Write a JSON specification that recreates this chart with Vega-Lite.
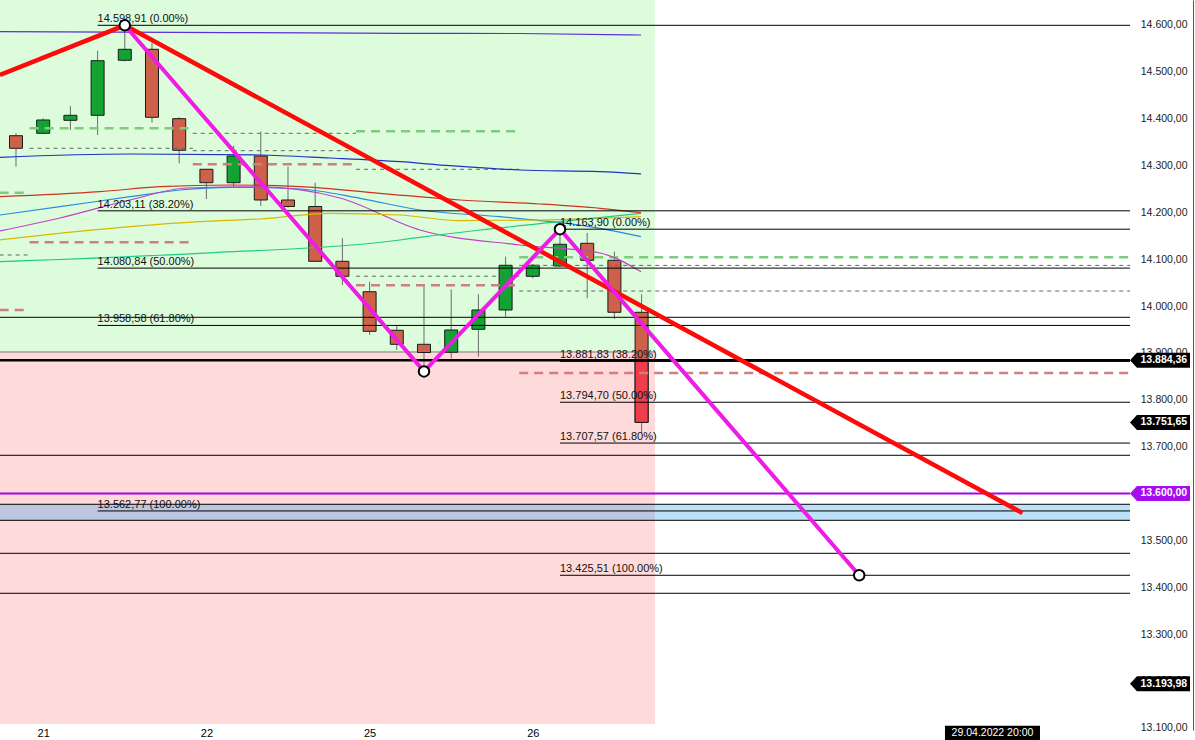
{
"$schema":"https://vega.github.io/schema/vega-lite/v6.json",
"width":1130,"height":730,"autosize":{"type":"none"},"padding":{"left":0,"top":0,"right":65,"bottom":10},"background":"white",
"config":{"view":{"stroke":null},"font":"Liberation Sans"},
"datasets":{
"zones":[{"x0":-0.6,"x1":23.49,"lo":13901.9,"hi":14660,"zone":"bull"},{"x0":-0.6,"x1":23.49,"lo":13108.2,"hi":13901.9,"zone":"bear"}],
"band":[{"lo":13542.8,"hi":13577.0}],
"candles":[
{"k":0,"open":14363.4,"high":14368.5,"low":14297.2,"close":14336.5},
{"k":1,"open":14368.5,"high":14400.5,"low":14367.0,"close":14396.9},
{"k":2,"open":14396.2,"high":14426.8,"low":14375.5,"close":14406.9},
{"k":3,"open":14406.9,"high":14544.7,"low":14364.9,"close":14523.4},
{"k":4,"open":14524.3,"high":14598.91,"low":14522.0,"close":14547.7},
{"k":5,"open":14547.7,"high":14561.0,"low":14391.1,"close":14402.6},
{"k":6,"open":14399.7,"high":14402.6,"low":14304.5,"close":14332.2},
{"k":7,"open":14291.7,"high":14292.5,"low":14228.3,"close":14263.1},
{"k":8,"open":14263.1,"high":14342.0,"low":14254.6,"close":14320.1},
{"k":9,"open":14320.1,"high":14371.9,"low":14213.4,"close":14226.2},
{"k":10,"open":14226.2,"high":14297.2,"low":14210.0,"close":14212.3},
{"k":11,"open":14212.3,"high":14263.1,"low":14094.0,"close":14095.4},
{"k":12,"open":14095.4,"high":14144.5,"low":14044.8,"close":14063.4},
{"k":13,"open":14030.5,"high":14051.9,"low":13938.2,"close":13946.0},
{"k":14,"open":13948.2,"high":13957.4,"low":13906.2,"close":13918.3},
{"k":15,"open":13918.3,"high":14042.7,"low":13860.5,"close":13900.8},
{"k":16,"open":13901.3,"high":14035.7,"low":13888.4,"close":13948.8},
{"k":17,"open":13950.3,"high":14025.0,"low":13891.9,"close":13991.5},
{"k":18,"open":13991.5,"high":14105.2,"low":13977.2,"close":14086.9},
{"k":19,"open":14063.4,"high":14089.6,"low":14059.1,"close":14086.9},
{"k":20,"open":14085.4,"high":14163.9,"low":14083.3,"close":14131.7},
{"k":21,"open":14133.8,"high":14155.8,"low":14016.5,"close":14097.5},
{"k":22,"open":14097.5,"high":14115.9,"low":13972.3,"close":13986.6},
{"k":23,"open":13986.6,"high":14025.0,"low":13728.4,"close":13751.65}],
"live":[{"k":23,"from":13884.36,"to":13751.65}],
"hlines":[{"v":13975.9},{"v":13681.5},{"v":13577.0},{"v":13542.8},{"v":13472.4},{"v":13387.1}],
"pivots":[
{"x0":-0.6,"x1":0.5,"v":14241.8,"type":"high"},{"x0":-0.6,"x1":0.5,"v":14108.9,"type":"mid"},{"x0":-0.6,"x1":0.5,"v":13991.5,"type":"low"},
{"x0":0.5,"x1":6.5,"v":14379.2,"type":"high"},{"x0":0.5,"x1":6.5,"v":14336.5,"type":"mid"},{"x0":0.5,"x1":6.5,"v":14136.2,"type":"low"},
{"x0":6.5,"x1":12.5,"v":14368.5,"type":"mid"},{"x0":6.5,"x1":12.5,"v":14331.4,"type":"mid"},{"x0":6.5,"x1":12.5,"v":14302.6,"type":"low"},
{"x0":12.5,"x1":18.5,"v":14373.0,"type":"high"},{"x0":12.5,"x1":18.5,"v":14291.7,"type":"mid"},{"x0":12.5,"x1":18.5,"v":14063.6,"type":"mid"},{"x0":12.5,"x1":18.5,"v":14044.2,"type":"low"},
{"x0":18.5,"x1":40.96,"v":14104.0,"type":"high"},{"x0":18.5,"x1":40.96,"v":14086.7,"type":"mid"},{"x0":18.5,"x1":40.96,"v":14032.0,"type":"mid"},{"x0":18.5,"x1":40.96,"v":13857.0,"type":"low"}],
"ma":[
{"m":"m1","k":-0.59,"v":14585.3},{"m":"m1","k":8,"v":14583.5},{"m":"m1","k":14.12,"v":14581.9},{"m":"m1","k":18.53,"v":14581.4},{"m":"m1","k":22.98,"v":14578.2},
{"m":"m2","k":-0.59,"v":14317.3},{"m":"m2","k":4.19,"v":14324.3},{"m":"m2","k":8.97,"v":14322.2},{"m":"m2","k":11.54,"v":14315.8},{"m":"m2","k":14.12,"v":14307.9},{"m":"m2","k":15.96,"v":14299.4},{"m":"m2","k":18.53,"v":14290.2},{"m":"m2","k":21.47,"v":14286.6},{"m":"m2","k":22.98,"v":14281.7},
{"m":"m3","k":-0.59,"v":14233.2},{"m":"m3","k":3.09,"v":14243.9},{"m":"m3","k":5.29,"v":14254.6},{"m":"m3","k":7.87,"v":14258.2},{"m":"m3","k":10.44,"v":14254.6},{"m":"m3","k":13.38,"v":14240.5},{"m":"m3","k":16.32,"v":14226.2},{"m":"m3","k":19.26,"v":14217.7},{"m":"m3","k":21.47,"v":14208.5},{"m":"m3","k":22.98,"v":14199.1},
{"m":"m4","k":-0.59,"v":14194.2},{"m":"m4","k":1.62,"v":14211.9},{"m":"m4","k":4.19,"v":14233.2},{"m":"m4","k":6.03,"v":14247.5},{"m":"m4","k":7.87,"v":14253.3},{"m":"m4","k":10.44,"v":14249.7},{"m":"m4","k":12.65,"v":14229.8},{"m":"m4","k":14.85,"v":14204.9},{"m":"m4","k":17.79,"v":14190.6},{"m":"m4","k":20.0,"v":14177.8},{"m":"m4","k":21.47,"v":14165.8},{"m":"m4","k":22.98,"v":14147.9},
{"m":"m5","k":-0.59,"v":14160.1},{"m":"m5","k":1.62,"v":14187.8},{"m":"m5","k":4.19,"v":14226.2},{"m":"m5","k":6.29,"v":14251.8},{"m":"m5","k":8.97,"v":14254.0},{"m":"m5","k":11.91,"v":14230.5},{"m":"m5","k":14.85,"v":14162.2},{"m":"m5","k":18.53,"v":14130.2},{"m":"m5","k":21.47,"v":14113.1},{"m":"m5","k":22.98,"v":14073.2},
{"m":"m6","k":-0.59,"v":14140.9},{"m":"m6","k":4.19,"v":14169.2},{"m":"m6","k":6.76,"v":14179.9},{"m":"m6","k":8.97,"v":14185.7},{"m":"m6","k":11.54,"v":14197.8},{"m":"m6","k":14.12,"v":14194.2},{"m":"m6","k":16.32,"v":14182.0},{"m":"m6","k":19.26,"v":14183.5},{"m":"m6","k":22.98,"v":14190.6},
{"m":"m7","k":-0.59,"v":14094.6},{"m":"m7","k":6.76,"v":14112.5},{"m":"m7","k":14.12,"v":14140.9},{"m":"m7","k":14.85,"v":14146.6},{"m":"m7","k":17.06,"v":14162.2},{"m":"m7","k":20.0,"v":14179.9},{"m":"m7","k":22.98,"v":14197.8}],
"fibs":[
{"start":3,"v":14598.91,"label":"14.598,91 (0.00%)"},{"start":3,"v":14203.11,"label":"14.203,11 (38.20%)"},{"start":3,"v":14080.84,"label":"14.080,84 (50.00%)"},{"start":3,"v":13958.58,"label":"13.958,58 (61.80%)"},{"start":3,"v":13562.77,"label":"13.562,77 (100.00%)"},
{"start":20,"v":14163.90,"label":"14.163,90 (0.00%)"},{"start":20,"v":13881.83,"label":"13.881,83 (38.20%)"},{"start":20,"v":13794.70,"label":"13.794,70 (50.00%)"},{"start":20,"v":13707.57,"label":"13.707,57 (61.80%)"},{"start":20,"v":13425.51,"label":"13.425,51 (100.00%)"}],
"price":[{"v":13884.36}],
"alert":[{"v":13600.0}],
"trend":[{"k":-0.59,"v":14492.9},{"k":4,"v":14598.91},{"k":37,"v":13558.4}],
"zigzag":[{"k":4,"v":14598.91},{"k":15,"v":13860.52},{"k":20,"v":14163.90},{"k":31,"v":13425.51}],
"tags":[{"price":13884.36,"label":"13.884,36","kind":"price"},{"price":13751.65,"label":"13.751,65","kind":"price"},{"price":13600.0,"label":"13.600,00","kind":"alert"},{"price":13193.98,"label":"13.193,98","kind":"price"}],
"cursor":[{"label":"29.04.2022 20:00"}]
},
"layer":[
{"data":{"name":"zones"},"mark":{"type":"rect"},
 "encoding":{
  "x":{"field":"x0","type":"quantitative","scale":{"domain":[-0.588,40.956],"nice":false,"zero":false,"padding":0},
       "axis":{"values":[1,7,13,19],"labelExpr":"datum.value==1?'21':datum.value==7?'22':datum.value==13?'25':'26'","title":null,"grid":false,"ticks":false,"domain":false,"labelPadding":-3,"labelFontSize":11,"labelColor":"#000","labelFont":"Liberation Sans"}},
  "x2":{"field":"x1"},
  "y":{"field":"lo","type":"quantitative","scale":{"domain":[13095.4,14652.9],"nice":false,"zero":false},
       "axis":{"orient":"right","values":[13100,13200,13300,13400,13500,13600,13700,13800,13900,14000,14100,14200,14300,14400,14500,14600],"labelExpr":"replace(replace(replace(format(datum.value, ',.2f'), ',', '#'), '.', ','), '#', '.')","title":null,"grid":false,"ticks":false,"domain":true,"domainColor":"#555","offset":63,"labelAlign":"right","labelPadding":-6,"labelFontSize":10.5,"labelColor":"#222","labelFont":"Liberation Sans"}},
  "y2":{"field":"hi"},
  "color":{"field":"zone","type":"nominal","scale":{"domain":["bull","bear"],"range":["#dcfcdc","#ffdada"]},"legend":null}}},
{"data":{"name":"zones"},"transform":[{"filter":"datum.zone=='bear'"}],"mark":{"type":"rule","color":"#777","strokeWidth":1},
 "encoding":{"x":{"field":"x0","type":"quantitative","scale":{"domain":[-0.588,40.956],"nice":false,"zero":false,"padding":0},"title":null},"x2":{"field":"x1"},
  "y":{"field":"hi","type":"quantitative","scale":{"domain":[13095.4,14652.9],"nice":false,"zero":false},"title":null}}},
{"data":{"name":"band"},"mark":{"type":"rect","color":"#189bee","opacity":0.29},
 "encoding":{"y":{"field":"lo","type":"quantitative","scale":{"domain":[13095.4,14652.9],"nice":false,"zero":false},"title":null},"y2":{"field":"hi"}}},
{"data":{"name":"candles"},"mark":{"type":"rule","color":"#6b6b6b","strokeWidth":1},
 "encoding":{"x":{"field":"k","type":"quantitative","scale":{"domain":[-0.588,40.956],"nice":false,"zero":false,"padding":0},"title":null},
  "y":{"field":"low","type":"quantitative","scale":{"domain":[13095.4,14652.9],"nice":false,"zero":false},"title":null},"y2":{"field":"high"}}},
{"data":{"name":"candles"},"mark":{"type":"bar","width":13,"stroke":"#1b1b1b","strokeWidth":1},
 "encoding":{"x":{"field":"k","type":"quantitative","scale":{"domain":[-0.588,40.956],"nice":false,"zero":false,"padding":0},"title":null},
  "y":{"field":"open","type":"quantitative","scale":{"domain":[13095.4,14652.9],"nice":false,"zero":false},"title":null},"y2":{"field":"close"},
  "color":{"condition":{"test":"datum.close >= datum.open","value":"#12a332"},"value":"#cd6149"}}},
{"data":{"name":"live"},"mark":{"type":"bar","width":13,"stroke":"#1b1b1b","strokeWidth":1,"color":"#ef3d4c"},
 "encoding":{"x":{"field":"k","type":"quantitative","scale":{"domain":[-0.588,40.956],"nice":false,"zero":false,"padding":0},"title":null},
  "y":{"field":"from","type":"quantitative","scale":{"domain":[13095.4,14652.9],"nice":false,"zero":false},"title":null},"y2":{"field":"to"}}},
{"data":{"name":"hlines"},"mark":{"type":"rule","color":"#000","strokeWidth":1},
 "encoding":{"y":{"field":"v","type":"quantitative","scale":{"domain":[13095.4,14652.9],"nice":false,"zero":false},"title":null}}},
{"data":{"name":"pivots"},"mark":{"type":"rule"},
 "encoding":{"x":{"field":"x0","type":"quantitative","scale":{"domain":[-0.588,40.956],"nice":false,"zero":false,"padding":0},"title":null},"x2":{"field":"x1"},
  "y":{"field":"v","type":"quantitative","scale":{"domain":[13095.4,14652.9],"nice":false,"zero":false},"title":null},
  "color":{"field":"type","type":"nominal","scale":{"domain":["high","mid","low"],"range":["#7fcc7f","#666666","#cf7f7f"]},"legend":null},
  "strokeDash":{"field":"type","type":"nominal","scale":{"domain":["high","mid","low"],"range":[[9,6],[4,4],[9,6]]},"legend":null},
  "strokeWidth":{"field":"type","type":"nominal","scale":{"type":"ordinal","domain":["high","mid","low"],"range":[2.5,1,2.5]},"legend":null}}},
{"data":{"name":"ma"},"mark":{"type":"line","strokeWidth":1.2,"interpolate":"monotone"},
 "encoding":{"x":{"field":"k","type":"quantitative","scale":{"domain":[-0.588,40.956],"nice":false,"zero":false,"padding":0},"title":null},
  "y":{"field":"v","type":"quantitative","scale":{"domain":[13095.4,14652.9],"nice":false,"zero":false},"title":null},
  "color":{"field":"m","type":"nominal","scale":{"domain":["m1","m2","m3","m4","m5","m6","m7"],"range":["#5a2fd6","#1f33c4","#cc3320","#2a8be0","#c23fc6","#d6b900","#20cc85"]},"legend":null},
  "order":{"field":"k","type":"quantitative"}}},
{"data":{"name":"fibs"},"mark":{"type":"rule","color":"#000","strokeWidth":1},
 "encoding":{"x":{"field":"start","type":"quantitative","scale":{"domain":[-0.588,40.956],"nice":false,"zero":false,"padding":0},"title":null},"x2":{"datum":40.956},
  "y":{"field":"v","type":"quantitative","scale":{"domain":[13095.4,14652.9],"nice":false,"zero":false},"title":null}}},
{"data":{"name":"fibs"},"mark":{"type":"text","align":"left","baseline":"bottom","dy":-1,"fontSize":11,"color":"#111"},
 "encoding":{"x":{"field":"start","type":"quantitative","scale":{"domain":[-0.588,40.956],"nice":false,"zero":false,"padding":0},"title":null},
  "y":{"field":"v","type":"quantitative","scale":{"domain":[13095.4,14652.9],"nice":false,"zero":false},"title":null},"text":{"field":"label"}}},
{"data":{"name":"price"},"mark":{"type":"rule","color":"#000","strokeWidth":2.5},
 "encoding":{"y":{"field":"v","type":"quantitative","scale":{"domain":[13095.4,14652.9],"nice":false,"zero":false},"title":null}}},
{"data":{"name":"alert"},"mark":{"type":"rule","color":"#aa00ee","strokeWidth":2},
 "encoding":{"y":{"field":"v","type":"quantitative","scale":{"domain":[13095.4,14652.9],"nice":false,"zero":false},"title":null}}},
{"data":{"name":"trend"},"mark":{"type":"line","color":"#ff0a0a","strokeWidth":4.5},
 "encoding":{"x":{"field":"k","type":"quantitative","scale":{"domain":[-0.588,40.956],"nice":false,"zero":false,"padding":0},"title":null},
  "y":{"field":"v","type":"quantitative","scale":{"domain":[13095.4,14652.9],"nice":false,"zero":false},"title":null},"order":{"field":"k","type":"quantitative"}}},
{"data":{"name":"zigzag"},"mark":{"type":"line","color":"#ee1ce4","strokeWidth":4},
 "encoding":{"x":{"field":"k","type":"quantitative","scale":{"domain":[-0.588,40.956],"nice":false,"zero":false,"padding":0},"title":null},
  "y":{"field":"v","type":"quantitative","scale":{"domain":[13095.4,14652.9],"nice":false,"zero":false},"title":null},"order":{"field":"k","type":"quantitative"}}},
{"data":{"name":"zigzag"},"mark":{"type":"point","shape":"circle","filled":true,"fill":"white","stroke":"black","strokeWidth":2,"size":110,"opacity":1},
 "encoding":{"x":{"field":"k","type":"quantitative","scale":{"domain":[-0.588,40.956],"nice":false,"zero":false,"padding":0},"title":null},
  "y":{"field":"v","type":"quantitative","scale":{"domain":[13095.4,14652.9],"nice":false,"zero":false},"title":null}}},
{"data":{"name":"tags"},"mark":{"type":"point","shape":"M-1,0L-0.77,-0.25L1,-0.25L1,0.25L-0.77,0.25Z","filled":true,"size":3600,"opacity":1,"strokeWidth":0},
 "encoding":{"x":{"datum":42.06,"type":"quantitative","scale":{"domain":[-0.588,40.956],"nice":false,"zero":false,"padding":0},"title":null},
  "y":{"field":"price","type":"quantitative","scale":{"domain":[13095.4,14652.9],"nice":false,"zero":false},"title":null},
  "color":{"condition":{"test":"datum.kind=='alert'","value":"#a50cf0"},"value":"#000000"}}},
{"data":{"name":"tags"},"mark":{"type":"text","align":"center","baseline":"middle","fontSize":10.5,"fontWeight":"bold","color":"white"},
 "encoding":{"x":{"datum":42.2,"type":"quantitative","scale":{"domain":[-0.588,40.956],"nice":false,"zero":false,"padding":0},"title":null},
  "y":{"field":"price","type":"quantitative","scale":{"domain":[13095.4,14652.9],"nice":false,"zero":false},"title":null},"text":{"field":"label"}}},
{"data":{"name":"cursor"},"mark":{"type":"point","shape":"M-1,-0.15L1,-0.15L1,0.15L-1,0.15Z","filled":true,"size":9025,"color":"#000","opacity":1,"strokeWidth":0},
 "encoding":{"x":{"datum":35.9,"type":"quantitative","scale":{"domain":[-0.588,40.956],"nice":false,"zero":false,"padding":0},"title":null},
  "y":{"datum":13089,"type":"quantitative","scale":{"domain":[13095.4,14652.9],"nice":false,"zero":false},"title":null}}},
{"data":{"name":"cursor"},"mark":{"type":"text","align":"center","baseline":"middle","fontSize":10.5,"font":"Liberation Sans","color":"white"},
 "encoding":{"x":{"datum":35.9,"type":"quantitative","scale":{"domain":[-0.588,40.956],"nice":false,"zero":false,"padding":0},"title":null},
  "y":{"datum":13089,"type":"quantitative","scale":{"domain":[13095.4,14652.9],"nice":false,"zero":false},"title":null},"text":{"field":"label"}}}
],
"resolve":{"scale":{"color":"independent","strokeDash":"independent","strokeWidth":"independent"}}
}
